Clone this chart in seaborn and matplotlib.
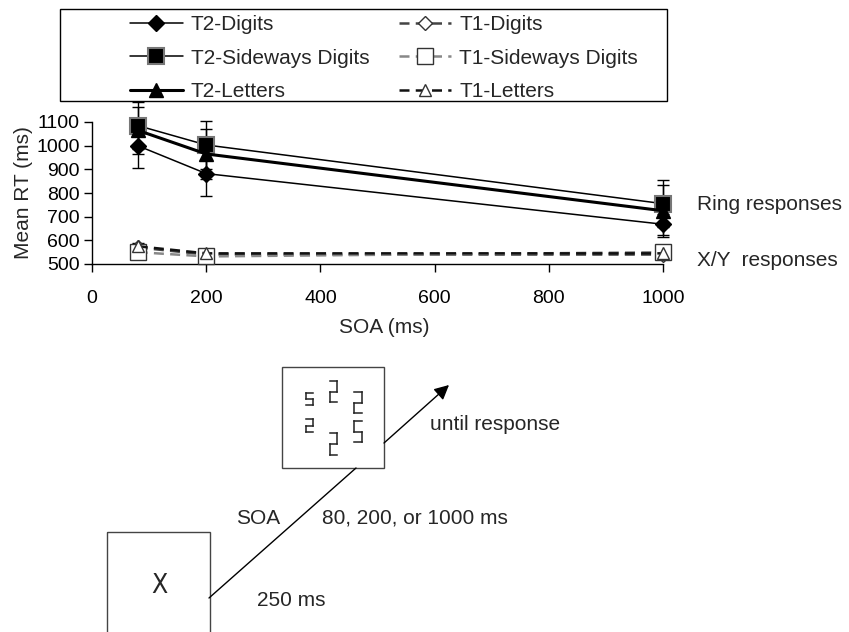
import matplotlib
matplotlib.use("Agg")
import matplotlib.pyplot as plt
import seaborn as sns
from matplotlib.patches import Rectangle

# ---------------- data ----------------
soa = [80, 200, 1000]
series_names = ["T2-Digits", "T2-Sideways Digits", "T2-Letters",
                "T1-Digits", "T1-Sideways Digits", "T1-Letters"]
t2_digits = [1000, 882, 668]
t2_sideways = [1085, 1003, 755]
t2_letters = [1065, 965, 725]
t1_digits = [570, 540, 540]
t1_sideways = [550, 532, 550]
t1_letters = [575, 545, 545]
t2_digits_err = [95, 95, 45]
t2_sideways_err = [100, 100, 100]
t2_letters_err = [100, 105, 110]
t1_digits_err = [15, 12, 12]
t1_sideways_err = [15, 12, 12]
t1_letters_err = [15, 12, 12]
xticks = [0, 200, 400, 600, 800, 1000]
yticks = [500, 600, 700, 800, 900, 1000, 1100]

sns.set_style("ticks")
plt.rcParams["font.family"] = ["Liberation Sans", "DejaVu Sans"]

W, H = 849, 632
fig = plt.figure(figsize=(W / 100, H / 100), dpi=100)

# overlay in pixel coordinates for frame / diagram
ov = fig.add_axes([0, 0, 1, 1], zorder=0)
ov.set_xlim(0, W)
ov.set_ylim(H, 0)
ov.axis("off")
ov.patch.set_alpha(0)

ax = fig.add_axes([92 / W, 1 - 264 / H, 571 / W, 142 / H], zorder=2)
ax.patch.set_alpha(0)

values = [t2_digits, t2_sideways, t2_letters, t1_digits, t1_sideways, t1_letters]
errors = [t2_digits_err, t2_sideways_err, t2_letters_err,
          t1_digits_err, t1_sideways_err, t1_letters_err]
styles = [
    dict(color="black", marker="D", markersize=8, markerfacecolor="black",
         markeredgecolor="black", markeredgewidth=1, linewidth=1.1, linestyle="-"),
    dict(color="black", marker="s", markersize=11, markerfacecolor="black",
         markeredgecolor="#777777", markeredgewidth=1.5, linewidth=1.1, linestyle="-"),
    dict(color="black", marker="^", markersize=10, markerfacecolor="black",
         markeredgecolor="black", markeredgewidth=1, linewidth=2.2, linestyle="-"),
    dict(color="#444444", marker="D", markersize=7, markerfacecolor="white",
         markeredgecolor="#333333", markeredgewidth=1, linewidth=1.8, linestyle=(0, (4, 2.5))),
    dict(color="#888888", marker="s", markersize=12, markerfacecolor="white",
         markeredgecolor="#333333", markeredgewidth=1, linewidth=1.8, linestyle=(0, (4, 2.5))),
    dict(color="#111111", marker="^", markersize=9, markerfacecolor="white",
         markeredgecolor="#333333", markeredgewidth=1, linewidth=1.8, linestyle=(0, (4, 2.5))),
]

handles = []
for name, vals, err, st in zip(series_names, values, errors, styles):
    ax.errorbar(soa, vals, yerr=err, fmt="none", ecolor="black", elinewidth=1,
                capsize=4, capthick=1, zorder=2, clip_on=False)
    n_before = len(ax.lines)
    sns.lineplot(x=soa, y=vals, ax=ax, legend=False, label=name, clip_on=False,
                 zorder=3, **st)
    handles.append(ax.lines[n_before])
if ax.get_legend() is not None:
    ax.get_legend().remove()

ax.set_xlim(0, 1000)
ax.set_ylim(500, 1100)
ax.set_xticks(xticks)
ax.set_yticks(yticks)
ax.tick_params(axis="x", direction="out", length=6, width=1, pad=13, labelsize=14, colors="black")
ax.tick_params(axis="y", direction="out", length=6, width=1, pad=3, labelsize=14, colors="black")
for s in ["top", "right"]:
    ax.spines[s].set_visible(False)
for s in ["left", "bottom"]:
    ax.spines[s].set_color("black")
    ax.spines[s].set_linewidth(1)
ax.set_xlabel("SOA (ms)", fontsize=15)
ax.set_ylabel("Mean RT (ms)", fontsize=15)
ax.xaxis.set_label_coords((384 - 92) / 571, -(318 - 264) / 142)
ax.yaxis.set_label_coords(-(92 - 33) / 571, 0.5)

# legend frame and legend
ov.add_patch(Rectangle((60, 9), 607, 92, fill=False, edgecolor="black", lw=1))
fig.legend(handles, series_names, ncol=2, loc="upper left",
           bbox_to_anchor=(120 / W, 1 - 5 / H), frameon=False, borderpad=0,
           fontsize=15, handlelength=2.5, handletextpad=0.4, columnspacing=1.4,
           labelspacing=0.69)

# right labels
ov.text(697, 205, "Ring responses", fontsize=15, va="center", ha="left")
ov.text(697, 260, "X/Y  responses", fontsize=15, va="center", ha="left")

# ---------------- lower diagram ----------------
ov.add_patch(Rectangle((107, 532), 103, 120, fill=False, edgecolor="#444444", lw=1, clip_on=True))
ov.add_patch(Rectangle((282, 367), 102, 101, fill=False, edgecolor="#444444", lw=1))
ov.text(159, 586, "X", fontsize=19, ha="center", va="center", fontweight="light",
        family=["DejaVu Sans"], fontstretch="condensed")
ov.plot([209, 356], [598, 468], color="black", lw=1)
ov.annotate("", xy=(449, 385), xytext=(384, 443),
            arrowprops=dict(arrowstyle="-|>", color="black", lw=1, mutation_scale=22,
                            shrinkA=0, shrinkB=0))
ov.text(236, 518, "SOA", fontsize=15, va="center", ha="left")
ov.text(322, 518, "80, 200, or 1000 ms", fontsize=15, va="center", ha="left")
ov.text(257, 600, "250 ms", fontsize=15, va="center", ha="left")
ov.text(430, 425, "until response", fontsize=15, va="center", ha="left")


def seven_seg(x0, x1, y0, y1, digit):
    ym = (y0 + y1) / 2
    segs = {
        "2": [([x0, x1], [y0, y0]), ([x1, x1], [y0, ym]), ([x0, x1], [ym, ym]),
              ([x0, x0], [ym, y1]), ([x0, x1], [y1, y1])],
        "5": [([x0, x1], [y0, y0]), ([x0, x0], [y0, ym]), ([x0, x1], [ym, ym]),
              ([x1, x1], [ym, y1]), ([x0, x1], [y1, y1])],
    }
    for xs, ys in segs[digit]:
        ov.plot(xs, ys, color="#222222", lw=1.1, solid_capstyle="projecting")


glyphs = [(306, 313, 393, 405, "5"), (306, 313, 419, 432, "2"),
          (330, 337, 381, 402, "2"), (330, 337, 433, 455, "2"),
          (354, 362, 392, 413, "2"), (354, 362, 421, 442, "5")]
for g in glyphs:
    seven_seg(*g)

fig.savefig("out.png", dpi=100)
